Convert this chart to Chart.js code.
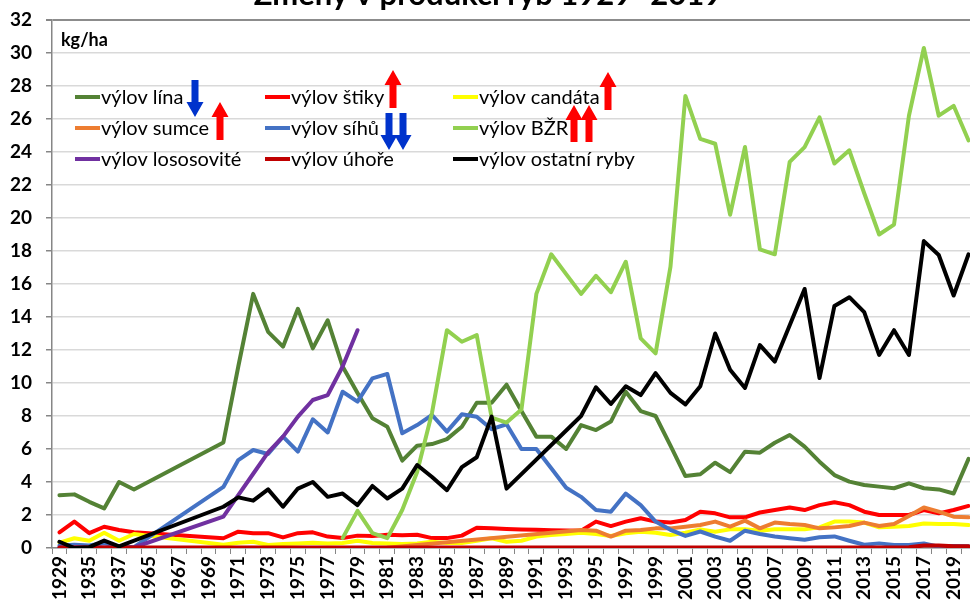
<!DOCTYPE html>
<html><head><meta charset="utf-8">
<script src="https://cdn.jsdelivr.net/npm/chart.js@4.4.1/dist/chart.umd.min.js"></script>
<style>
html,body{margin:0;padding:0;background:#fff;overflow:hidden;width:970px;height:608px;}
#wrap{position:absolute;left:0;top:-22px;width:980px;height:630px;}
</style></head><body>
<div id="wrap"><canvas id="c" width="980" height="630"></canvas></div>
<script>
const TITLE = 'Změny v produkci ryb 1929–2019';
const UNIT = 'kg/ha';
const years = ['1929','1932','1935','1936','1937','1938',
 '1965','1966','1967','1968','1969','1970','1971','1972','1973','1974','1975','1976','1977','1978','1979',
 '1980','1981','1982','1983','1984','1985','1986','1987','1988','1989','1990','1991','1992','1993','1994',
 '1995','1996','1997','1998','1999','2000','2001','2002','2003','2004','2005','2006','2007','2008','2009',
 '2010','2011','2012','2013','2014','2015','2016','2017','2018','2019','2020'];
const yTicks = {min:0, max:32, step:2};

const seriesNames = ['výlov lína','výlov štiky','výlov candáta','výlov sumce','výlov síhů','výlov BŽR','výlov lososovité','výlov úhoře','výlov ostatní ryby'];

const lina = [3.2,3.25,2.8,2.4,4.0,3.55,null,null,null,null,null,6.4,11.0,15.4,13.1,12.2,14.5,12.1,13.8,11.0,9.4,7.86,7.35,5.3,6.2,6.3,6.6,7.35,8.8,8.8,9.9,8.3,6.75,6.75,6.0,7.45,7.15,7.66,9.47,8.3,8.0,6.2,4.36,4.47,5.17,4.6,5.84,5.78,6.38,6.85,6.14,5.23,4.42,4.02,3.82,3.72,3.62,3.92,3.62,3.55,3.3,5.4];
const stiky = [0.95,1.6,0.9,1.29,1.09,0.95,null,null,null,null,null,0.59,0.99,0.9,0.9,0.64,0.9,0.95,0.69,0.6,0.75,0.72,0.8,0.78,0.8,0.6,0.6,0.75,1.23,1.19,1.15,1.12,1.1,1.08,1.06,1.05,1.6,1.33,1.6,1.8,1.6,1.55,1.7,2.2,2.1,1.86,1.86,2.15,2.3,2.46,2.3,2.6,2.77,2.6,2.2,2.0,2.0,2.0,2.3,2.1,2.3,2.55];
const candata = [0.32,0.59,0.44,0.93,0.44,0.85,null,null,null,null,null,0.2,0.32,0.38,0.18,0.24,0.28,0.32,0.28,0.3,0.44,0.3,0.28,0.25,0.28,0.38,0.3,0.3,0.44,0.59,0.38,0.44,0.69,0.79,0.85,0.93,0.85,0.73,0.89,0.99,0.93,0.79,0.93,1.13,0.99,1.13,1.13,1.05,1.13,1.13,1.13,1.25,1.6,1.6,1.54,1.25,1.29,1.33,1.49,1.45,1.45,1.39];
const sumce = [null,null,null,null,null,null,null,null,null,null,null,null,null,null,null,null,null,null,null,null,null,null,0.02,null,null,null,null,null,null,null,null,null,null,null,null,1.09,1.05,0.69,1.05,1.09,1.19,1.19,1.29,1.39,1.6,1.29,1.66,1.19,1.54,1.45,1.39,1.19,1.25,1.33,1.54,1.33,1.45,1.94,2.46,2.2,1.9,1.86];
const sihu = [0.15,0.2,0.15,0.3,0.1,0.05,null,null,null,null,null,3.7,5.33,5.94,5.7,6.75,5.84,7.8,7.0,9.47,8.87,10.28,10.55,6.95,7.45,8.06,7.05,8.1,7.96,7.2,7.5,6.0,6.0,4.83,3.65,3.1,2.3,2.2,3.3,2.6,1.6,1.1,0.73,1.0,0.69,0.44,1.05,0.85,0.7,0.59,0.5,0.65,0.7,0.44,0.2,0.28,0.18,0.18,0.28,0.08,0.12,0.1];
const bzr = [null,null,null,null,null,null,null,null,null,null,null,null,null,null,null,null,null,null,null,0.6,2.25,0.9,0.6,2.3,4.6,8.2,13.2,12.5,12.9,7.9,7.6,8.4,15.4,17.8,16.6,15.4,16.5,15.5,17.35,12.7,11.8,17.05,27.4,24.8,24.5,20.2,24.3,18.1,17.8,23.4,24.3,26.1,23.3,24.1,21.5,19.0,19.6,26.2,30.3,26.2,26.8,24.7];
const lososovite = [0.03,0.03,0.03,0.03,0.03,0.03,null,null,null,null,null,1.9,3.2,4.5,5.8,6.75,7.96,8.97,9.27,11.0,13.2,null,null,null,null,null,null,null,null,null,null,null,null,null,null,null,null,null,null,null,null,null,null,null,null,null,null,null,null,null,null,null,null,null,null,null,null,null,null,null,null,null];
const uhore = [0.03,0.03,0.03,0.03,0.03,0.03,null,null,null,null,null,0.03,0.03,0.03,0.03,0.03,0.03,0.03,0.03,0.03,0.03,0.03,0.03,0.03,0.03,0.03,0.03,0.03,0.03,0.03,0.03,0.03,0.03,0.03,0.03,0.03,0.03,0.03,0.03,0.03,0.03,0.03,0.03,0.03,0.03,0.03,0.03,0.03,0.03,0.03,0.03,0.03,0.03,0.03,0.03,0.03,0.03,0.05,0.15,0.15,0.1,0.1];
const ostatni = [0.38,0,0.05,0.45,0.1,null,null,null,null,null,null,2.5,3.07,2.87,3.55,2.5,3.6,4.0,3.1,3.3,2.6,3.76,3.0,3.6,5.03,4.3,3.5,4.9,5.5,7.96,3.6,null,null,null,null,8.0,9.74,8.73,9.8,9.27,10.6,9.4,8.7,9.8,13.0,10.8,9.7,12.3,11.3,13.5,15.7,10.3,14.67,15.2,14.3,11.7,13.2,11.7,18.6,17.76,15.3,17.8];

const seriesValues = [lina, stiky, candata, sumce, sihu, bzr, lososovite, uhore, ostatni];
const seriesColors = ['#548235','#FF0000','#FFFF00','#ED7D31','#4472C4','#92D050','#7030A0','#C00000','#000000'];

Chart.defaults.font.family = 'Lato';
Chart.defaults.color = '#000';

const OFFY = 22; // canvas is shifted up by this many pixels

const overlay = {
  id: 'overlay',
  afterDraw(chart) {
    const ctx = chart.ctx;
    ctx.save();
    ctx.font = 'bold 18px Lato';
    ctx.fillStyle = '#000';
    ctx.textBaseline = 'middle';
    ctx.textAlign = 'left';
    ctx.fillText(UNIT, 61, 40 + OFFY);
    const cols = [75, 265, 453];
    const rows = [97, 128, 159];
    chart.data.datasets.forEach((ds, i) => {
      const x = cols[i % 3], y = rows[Math.floor(i / 3)] + OFFY;
      ctx.strokeStyle = ds.borderColor;
      ctx.lineWidth = 4;
      ctx.beginPath(); ctx.moveTo(x, y); ctx.lineTo(x + 25, y); ctx.stroke();
      ctx.font = '20px Lato';
      ctx.fillStyle = '#000';
      ctx.fillText(ds.label, x + 26, y + 1);
    });
    const RED = '#FF0000', BLUE = '#0033CC';
    const arrows = [
      {x:195, top:80, bottom:117, up:false, c:BLUE},
      {x:393, top:70, bottom:108, up:true, c:RED},
      {x:608, top:72, bottom:110, up:true, c:RED},
      {x:220, top:102, bottom:140, up:true, c:RED},
      {x:389, top:113, bottom:150, up:false, c:BLUE},
      {x:403, top:113, bottom:150, up:false, c:BLUE},
      {x:574, top:105, bottom:142, up:true, c:RED},
      {x:589, top:105, bottom:142, up:true, c:RED}
    ];
    arrows.forEach(a => {
      const sw = 3.5, hw = 8.5, hl = 15;
      const t = a.top + OFFY, b = a.bottom + OFFY;
      ctx.fillStyle = a.c;
      ctx.beginPath();
      if (a.up) {
        ctx.moveTo(a.x, t);
        ctx.lineTo(a.x + hw, t + hl);
        ctx.lineTo(a.x + sw, t + hl);
        ctx.lineTo(a.x + sw, b);
        ctx.lineTo(a.x - sw, b);
        ctx.lineTo(a.x - sw, t + hl);
        ctx.lineTo(a.x - hw, t + hl);
      } else {
        ctx.moveTo(a.x, b);
        ctx.lineTo(a.x + hw, b - hl);
        ctx.lineTo(a.x + sw, b - hl);
        ctx.lineTo(a.x + sw, t);
        ctx.lineTo(a.x - sw, t);
        ctx.lineTo(a.x - sw, b - hl);
        ctx.lineTo(a.x - hw, b - hl);
      }
      ctx.closePath();
      ctx.fill();
    });
    ctx.restore();
  }
};

const datasets = seriesNames.map((name, i) => ({
  label: name,
  data: seriesValues[i],
  borderColor: seriesColors[i],
  backgroundColor: seriesColors[i],
  borderWidth: 4,
  pointRadius: 0,
  tension: 0,
  spanGaps: true,
  fill: false,
  order: seriesNames.length - i
}));

new Chart(document.getElementById('c'), {
  type: 'line',
  data: { labels: years, datasets },
  plugins: [overlay],
  options: {
    responsive: false,
    animation: false,
    devicePixelRatio: 1,
    layout: { padding: { left: 0, right: 4, top: 0, bottom: 0 } },
    plugins: {
      legend: { display: false },
      tooltip: { enabled: false },
      title: { display: true, text: TITLE, color: '#000',
        font: { size: 31, weight: 'bold', family: 'Lato', lineHeight: 1.0 },
        padding: { top: 1.5, bottom: 9.5 } }
    },
    elements: { line: { borderCapStyle: 'round', borderJoinStyle: 'round' } },
    scales: {
      x: {
        type: 'category',
        offset: true,
        grid: { offset: true, drawOnChartArea: false, drawTicks: true, tickLength: 6, tickColor: '#868686' },
        border: { color: '#868686', width: 1.5 },
        ticks: { autoSkip: false, maxRotation: 90, minRotation: 90, padding: 2,
          font: { size: 19, weight: 'bold' }, color: '#000',
          callback: (v, i) => (i % 2 === 0 ? years[i] : '') },
        afterFit(s) { s.height = 60; s.paddingLeft = 0; s.paddingRight = 0; }
      },
      y: {
        min: yTicks.min, max: yTicks.max,
        ticks: { stepSize: yTicks.step, padding: 14, font: { size: 19, weight: 'bold' }, color: '#000' },
        grid: {
          color: c => (c.tick && c.tick.value === yTicks.max ? '#8c8c8c' : '#d9d9d9'),
          lineWidth: c => (c.tick && c.tick.value === yTicks.max ? 2 : 1.5),
          tickLength: 6, tickColor: '#868686'
        },
        border: { color: '#868686', width: 1.5 },
        afterFit(s) { s.width = 52; }
      }
    }
  }
});
</script>
</body></html>
